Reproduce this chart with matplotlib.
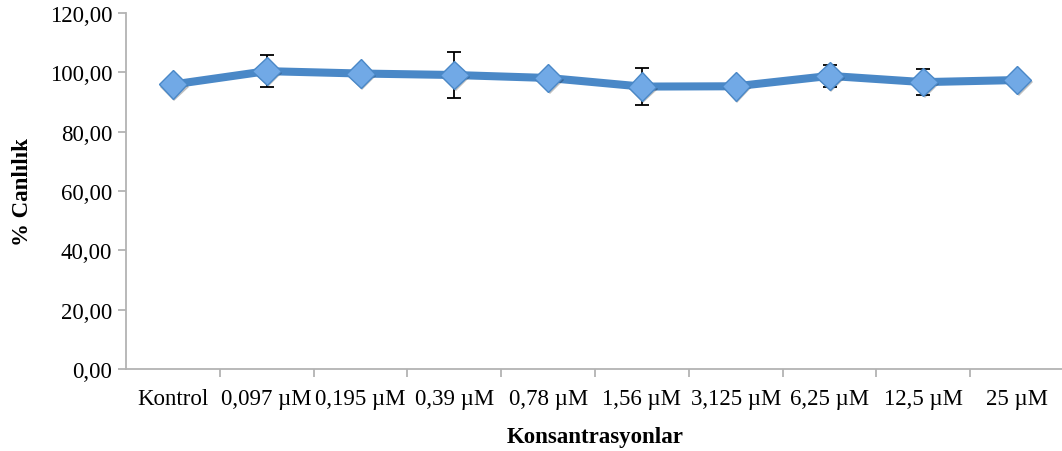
import matplotlib
matplotlib.use("Agg")
import matplotlib.pyplot as plt
import matplotlib.patheffects as pe
import numpy as np

categories = ["Kontrol", "0,097 µM", "0,195 µM", "0,39 µM", "0,78 µM",
              "1,56 µM", "3,125 µM", "6,25 µM", "12,5 µM", "25 µM"]
viability = [95.9, 100.4, 99.6, 99.1, 98.1, 95.2, 95.3, 98.8, 96.7, 97.4]
std_err = [0.0, 5.5, 1.2, 7.9, 1.5, 6.3, 1.5, 3.6, 4.4, 0.5]
y_ticks = [0, 20, 40, 60, 80, 100, 120]

plt.rcParams["font.family"] = ["Liberation Serif", "DejaVu Serif"]

fig = plt.figure(figsize=(10.62, 4.52), dpi=100)
ax = fig.add_axes([126 / 1062, 1 - 370 / 452, 1 - 126 / 1062 + 0.002, 356 / 452])

x = np.arange(len(categories))
axis_grey = "#B3B3B3"
fs = 16.5

ax.errorbar(x, viability, yerr=std_err, fmt="none", ecolor="black",
            elinewidth=1.3, capsize=5, capthick=1.3, zorder=2)
ax.plot(x, viability, color="#4A88C7", linewidth=5.8, zorder=3,
        solid_capstyle="round", solid_joinstyle="round")
ax.plot(x, viability, linestyle="none", marker="D", markersize=14.5,
        markerfacecolor="#71A9E6", markeredgecolor="#4A88C7", markeredgewidth=1.0,
        zorder=4,
        path_effects=[pe.SimplePatchShadow(offset=(1, -1.5), alpha=0.25, shadow_rgbFace="black"),
                      pe.Normal()])

ax.set_xlim(-0.5, len(categories) - 0.5)
ax.set_ylim(0, 120)
ax.set_yticks(y_ticks)
ax.set_yticklabels([f"{v:.2f}".replace(".", ",") for v in y_ticks], fontsize=fs)
ax.set_xticks(x)
ax.set_xticklabels(categories, fontsize=fs)
ax.set_xticks(np.arange(len(categories)) + 0.5, minor=True)
ax.tick_params(axis="x", which="major", length=0, pad=14)
ax.tick_params(axis="x", which="minor", length=6, color=axis_grey, width=1.3, direction="out")
ax.tick_params(axis="y", length=6, color=axis_grey, width=1.3, direction="out", pad=4)

for side in ("top", "right"):
    ax.spines[side].set_visible(False)
for side in ("left", "bottom"):
    ax.spines[side].set_color(axis_grey)
    ax.spines[side].set_linewidth(1.3)

ax.set_ylabel("% Canlılık", fontsize=fs, fontweight="bold", labelpad=12)
ax.set_xlabel("Konsantrasyonlar", fontsize=fs, fontweight="bold", labelpad=12)

fig.savefig("out.png", dpi=100)
